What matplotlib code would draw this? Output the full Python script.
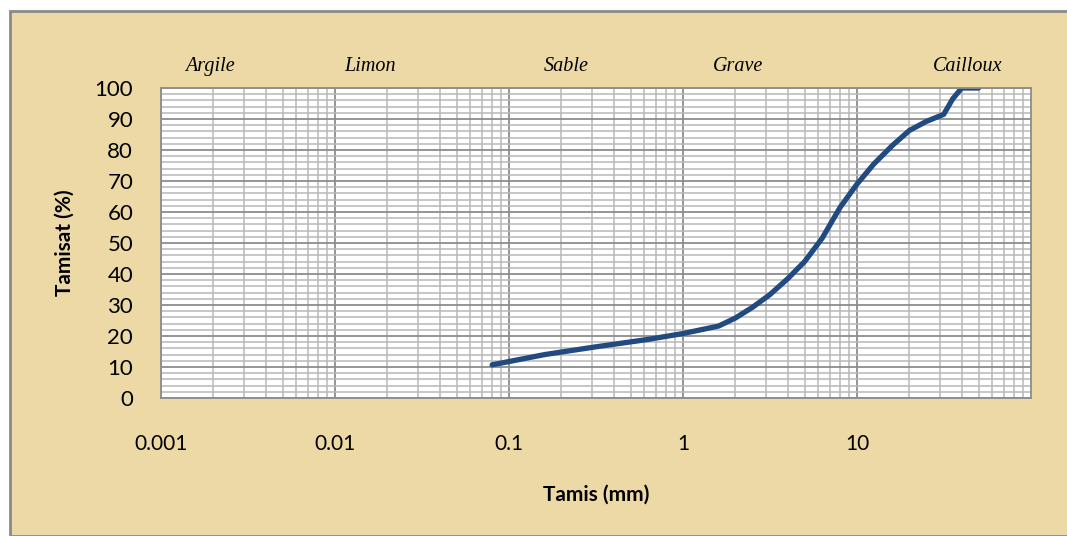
import matplotlib.pyplot as plt
from matplotlib.patches import Rectangle
from matplotlib.ticker import LogLocator, FixedLocator, MultipleLocator, NullFormatter
import matplotlib.transforms as mtransforms

# granulometric curve (sieve opening in mm, passing %)
tamis = [0.08, 0.16, 0.315, 0.63, 1.0, 1.6, 2.0, 2.5, 3.15, 4.0, 5.0, 6.3, 8.0, 10.0,
         12.5, 16.0, 20.0, 25.0, 31.5, 35.5, 40.0, 50.0]
tamisat = [10.7, 14.0, 16.5, 18.9, 20.8, 23.2, 25.8, 29.2, 33.3, 38.5, 44.0, 51.5, 61.5, 69.0,
           75.5, 81.5, 86.3, 89.2, 91.5, 96.5, 100.0, 100.0]

# soil class labels above the plot
zones = ['Argile', 'Limon', 'Sable', 'Grave', 'Cailloux']
zones_x = [0.0019, 0.0159, 0.213, 2.07, 43.4]

xticks = [0.001, 0.01, 0.1, 1, 10]
xtick_labels = ['0.001', '0.01', '0.1', '1', '10']

bg = '#ecd9a6'
line_color = '#204a80'

fig = plt.figure(figsize=(10.67, 5.36), dpi=100)
fig.patch.set_facecolor('white')
fig.patches.append(Rectangle((10 / 1067, 0), 1.0, 1 - 11 / 536, transform=fig.transFigure,
                             facecolor=bg, edgecolor='#8a8a8a', linewidth=2, zorder=-10))

ax = fig.add_axes([161 / 1067, 138 / 536, 870 / 1067, 310 / 536])
ax.set_facecolor('white')
ax.set_xscale('log')
ax.set_xlim(0.001, 100)
ax.set_ylim(0, 100)

ax.xaxis.set_major_locator(FixedLocator(xticks))
ax.set_xticks(xticks)
ax.set_xticklabels(xtick_labels)
ax.xaxis.set_minor_locator(LogLocator(base=10, subs=range(2, 10), numticks=20))
ax.xaxis.set_minor_formatter(NullFormatter())
ax.yaxis.set_major_locator(MultipleLocator(10))
ax.yaxis.set_minor_locator(MultipleLocator(2))

ax.grid(which='major', color='#8c8c8c', linewidth=1.3)
ax.grid(which='minor', color='#b8b8b8', linewidth=1.1)
ax.set_axisbelow(True)
ax.tick_params(which='both', length=0)
ax.tick_params(axis='x', pad=26, labelsize=15)
ax.tick_params(axis='y', pad=20, labelsize=16)
for s in ax.spines.values():
    s.set_color('#8c8c8c')
    s.set_linewidth(1.3)

for lab in ax.get_xticklabels() + ax.get_yticklabels():
    lab.set_family('Lato')

ax.plot(tamis, tamisat, color=line_color, linewidth=3.8, solid_capstyle='round',
        solid_joinstyle='round', clip_on=True)

ax.set_xlabel('Tamis (mm)', fontsize=15, fontweight='bold', family='Lato', labelpad=22)
ax.set_ylabel('Tamisat (%)', fontsize=15, fontweight='bold', family='Lato', labelpad=14)

trans = mtransforms.blended_transform_factory(ax.transData, ax.transAxes)
for name, xpos in zip(zones, zones_x):
    ax.text(xpos, 1.07, name, transform=trans, ha='center', va='center',
            fontsize=14.5, fontstyle='italic', family='Liberation Serif')

fig.savefig('out.png', dpi=100, facecolor=fig.get_facecolor())
